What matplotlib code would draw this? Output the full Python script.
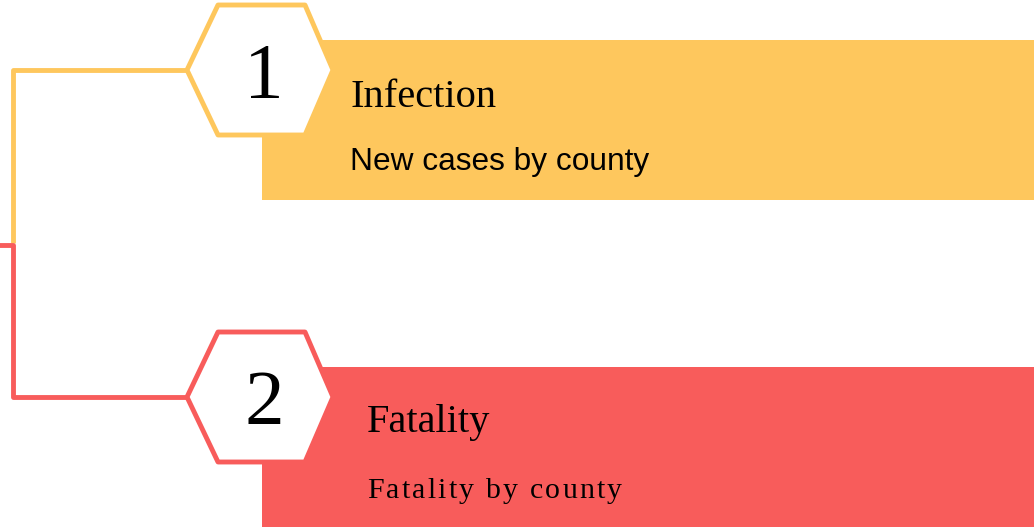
import matplotlib
matplotlib.use("Agg")
import matplotlib.pyplot as plt
from matplotlib.patches import Polygon, Rectangle
from matplotlib.font_manager import FontProperties

# Data
step_numbers = ["1", "2"]
step_titles = ["Infection", "Fatality"]
step_subtitles = ["New cases by county", "Fatality by county"]
step_colors = ["#FEC75D", "#F85C5B"]
subtitle_fonts = ["Liberation Sans", "Liberation Serif"]
subtitle_sizes = [22.8, 21.5]
subtitle_tracking = [0.0, 2.2]
text_x = [350, 367]

W, H = 1034, 527
fig = plt.figure(figsize=(W / 100, H / 100), dpi=100)
ax = fig.add_axes([0, 0, 1, 1])
ax.set_xlim(0, W)
ax.set_ylim(H, 0)
ax.axis("off")
renderer = fig.canvas.get_renderer()


def text_width(s, prop):
    w_bar, _, _ = renderer.get_text_width_height_descent("|", prop, ismath=False)
    w, _, _ = renderer.get_text_width_height_descent(s + "|", prop, ismath=False)
    return w - w_bar


def tracked_text(x, y, s, family, size, tracking):
    if tracking == 0:
        ax.text(x, y, s, fontsize=size, family=family, ha="left", va="baseline",
                color="black", zorder=4)
        return
    prop = FontProperties(family=family, size=size)
    for k, ch in enumerate(s):
        if ch == " ":
            continue
        dx = text_width(s[:k], prop) + k * tracking
        ax.text(x + dx, y, ch, fontproperties=prop, ha="left", va="baseline",
                color="black", zorder=4)


lw = 3.5
spacing = 327
first_cy = 70
spine_x = 13
hex_cx = 260

for i, (num, title, sub, col) in enumerate(zip(step_numbers, step_titles, step_subtitles, step_colors)):
    cy = first_cy + i * spacing
    ax.add_patch(Rectangle((262, cy - 30), W - 262 + 5, 160, facecolor=col, edgecolor="none", zorder=1))
    if i == 0:
        xs = [hex_cx - 73, spine_x, spine_x]
        ys = [cy, cy, cy + 173]
    else:
        xs = [-5, spine_x, spine_x, hex_cx - 73]
        ys = [cy - 152, cy - 152, cy, cy]
    ax.plot(xs, ys, color=col, lw=lw, solid_joinstyle="round", solid_capstyle="butt", zorder=2)
    verts = [(hex_cx - 73, cy), (hex_cx - 42, cy - 65), (hex_cx + 45, cy - 65),
             (hex_cx + 73, cy), (hex_cx + 45, cy + 65), (hex_cx - 42, cy + 65)]
    ax.add_patch(Polygon(verts, closed=True, facecolor="white", edgecolor=col, lw=lw,
                         joinstyle="round", zorder=3))
    ax.text(hex_cx + 4, cy + 27, num, fontsize=57, family="Liberation Serif", ha="center",
            va="baseline", color="black", zorder=4)
    ax.text(text_x[i], cy + 37 - 2 * i, title, fontsize=29.2, family="Liberation Serif",
            ha="left", va="baseline", color="black", zorder=4)
    tracked_text(text_x[i], cy + 100 + i, sub, subtitle_fonts[i], subtitle_sizes[i],
                 subtitle_tracking[i])

fig.savefig("out.png", dpi=100, facecolor="white")
